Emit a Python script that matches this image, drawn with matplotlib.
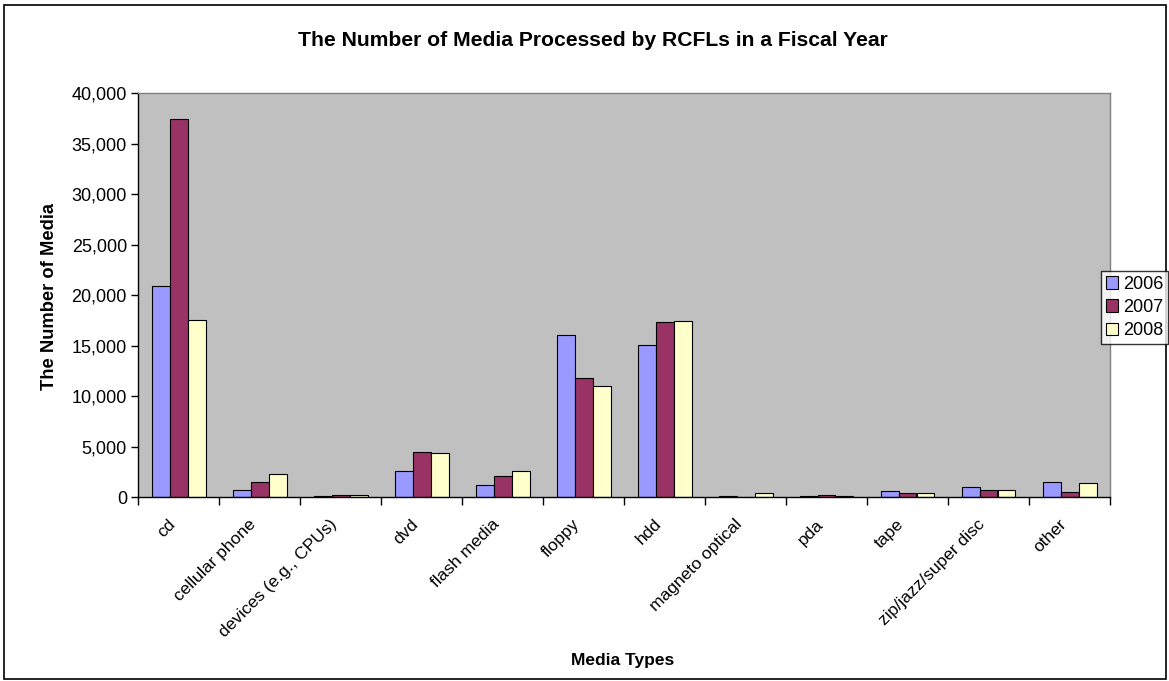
import matplotlib
matplotlib.use("Agg")
import matplotlib.pyplot as plt
import numpy as np
from matplotlib.patches import Rectangle
from matplotlib.ticker import FuncFormatter, FixedLocator
from matplotlib.transforms import ScaledTranslation

categories = ["cd", "cellular phone", "devices (e.g., CPUs)", "dvd", "flash media",
              "floppy", "hdd", "magneto optical", "pda", "tape",
              "zip/jazz/super disc", "other"]
series_names = ["2006", "2007", "2008"]
values_2006 = [20900, 720, 100, 2540, 1150, 16050, 15070, 90, 60, 640, 950, 1480]
values_2007 = [37450, 1480, 230, 4440, 2070, 11750, 17370, 0, 180, 360, 720, 520]
values_2008 = [17550, 2240, 240, 4340, 2540, 10990, 17440, 360, 130, 360, 720, 1380]
colors = ["#9999FF", "#993366", "#FFFFCC"]

plt.rcParams['font.family'] = ['Liberation Sans', 'DejaVu Sans']

fig = plt.figure(figsize=(11.69, 6.81), dpi=100)
ax = fig.add_axes([138/1169, 1-497/681, (1110-138)/1169, (497-93.3)/681])
ax.set_facecolor("#C0C0C0")

x = np.arange(len(categories))
bw = 1/4.5
for i, (vals, name, c) in enumerate(zip([values_2006, values_2007, values_2008], series_names, colors)):
    ax.bar(x + (i-1)*bw, vals, width=bw, color=c, edgecolor="black", linewidth=0.8, label=name)

ax.set_xlim(-0.5, len(categories)-0.5)
ax.set_ylim(0, 40000)
ax.set_yticks(np.arange(0, 40001, 5000))
ax.yaxis.set_major_formatter(FuncFormatter(lambda v, p: f"{int(v):,}"))
ax.tick_params(axis='y', direction='out', length=5, width=1, labelsize=13, pad=3)

ax.set_xticks(x)
ax.set_xticklabels(categories, rotation=45, ha='right', rotation_mode='anchor', fontsize=12.5)
ax.tick_params(axis='x', which='major', length=0, pad=14)
ax.xaxis.set_minor_locator(FixedLocator(np.arange(-0.5, len(categories), 1.0)))
ax.tick_params(axis='x', which='minor', direction='out', length=6, width=1)
shift = ScaledTranslation(-11/100, 0, fig.dpi_scale_trans)
for lbl in ax.get_xticklabels():
    lbl.set_transform(lbl.get_transform() + shift)

for s in ['top', 'right']:
    ax.spines[s].set_color('#808080')
    ax.spines[s].set_linewidth(1)
for s in ['left', 'bottom']:
    ax.spines[s].set_color('black')
    ax.spines[s].set_linewidth(1)

fig.text(593/1169, 1-40/681, "The Number of Media Processed by RCFLs in a Fiscal Year",
         ha='center', va='center', fontsize=15.2, fontweight='bold')
fig.text(50/1169, 1-296/681, "The Number of Media", rotation=90, ha='center', va='center',
         fontsize=13.2, fontweight='bold')
fig.text(623/1169, 1-660/681, "Media Types", ha='center', va='center',
         fontsize=12.5, fontweight='bold')

leg = fig.legend(loc='upper left', bbox_to_anchor=(1101/1169, 1-271/681), fontsize=13,
                 frameon=True, fancybox=False, handlelength=0.7, handleheight=0.7,
                 handletextpad=0.3, borderpad=0.25, labelspacing=0.35, borderaxespad=0)
leg.get_frame().set_edgecolor('black')
leg.get_frame().set_linewidth(1)
leg.get_frame().set_facecolor('white')

fig.patches.append(Rectangle((4/1169, 2/681), 1162/1169, 674/681, transform=fig.transFigure,
                             fill=False, edgecolor='black', linewidth=1.2))

fig.savefig("out.png", dpi=100)
